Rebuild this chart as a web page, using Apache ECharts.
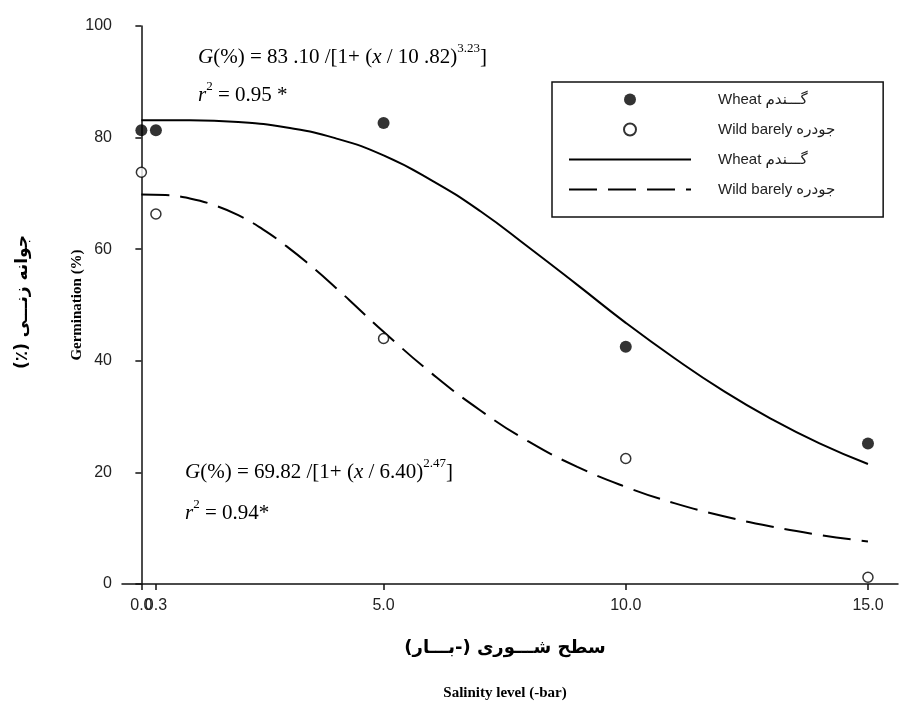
<!DOCTYPE html>
<html>
<head>
<meta charset="utf-8">
<script src="https://cdn.jsdelivr.net/npm/echarts@6/dist/echarts.min.js"></script>
<style>html,body{margin:0;padding:0;background:#fff}#c{width:904px;height:719px}</style>
</head>
<body>
<div id="c"></div>
<script>
// ---- data ----
const obsX = [0, 0.3, 5, 10, 15];
const wheatObs = [81.3, 81.3, 82.6, 42.5, 25.2];
const barleyObs = [73.8, 66.3, 44.0, 22.5, 1.2];

const wheatCurveX = [0, 1, 2, 3, 4, 5, 6, 7, 8, 9, 10, 11, 12, 13, 14, 15];
const wheatCurveY = [83.1, 83.1, 82.8, 81.8, 79.9, 76.8, 72.3, 66.8, 60.3, 53.6, 46.8, 40.5, 34.7, 29.6, 25.2, 21.5];

const barleyCurveX = [0, 0.5, 1, 1.5, 2, 2.5, 3, 3.5, 4, 4.5, 5, 6, 7, 8, 9, 10, 11, 12, 13, 14, 15];
const barleyCurveY = [69.8, 69.7, 69.1, 67.9, 66.1, 63.6, 60.5, 57.0, 53.2, 49.2, 45.2, 37.7, 31.1, 25.5, 21.0, 17.4, 14.5, 12.2, 10.3, 8.8, 7.6];

const xTicksMain = [0.3, 5, 10, 15];
const xTicksZero = [0];

const nameWheatPts = 'Wheat گـــندم';
const nameBarleyPts = 'Wild barely جودره';
const nameWheatLine = 'Wheat گـــندم\u200B';
const nameBarleyLine = 'Wild barely جودره\u200B';

const zip = (xs, ys) => xs.map((x, i) => [x, ys[i]]);

const chart = echarts.init(document.getElementById('c'), null, {renderer: 'canvas'});
const serif = 'Liberation Serif, Times New Roman, serif';
const sans = 'Liberation Sans, Arial, DejaVu Sans, sans-serif';

function xAxisDef(ticks, showLine) {
  return {
    type: 'value', min: -0.4, max: 15.62, position: 'bottom',
    axisLine: {show: showLine, onZero: false, lineStyle: {color: '#111', width: 1.5}},
    axisTick: {show: true, inside: false, length: 6, customValues: ticks, lineStyle: {color: '#111', width: 1.5}},
    axisLabel: {customValues: ticks, hideOverlap: false, color: '#222', fontFamily: sans, fontSize: 16, margin: 14,
      formatter: v => Number(v).toFixed(1)},
    splitLine: {show: false}
  };
}

const rich = {
  i: {fontFamily: serif, fontStyle: 'italic', fontSize: 21, fill: '#000', verticalAlign: 'bottom', lineHeight: 26},
  n: {fontFamily: serif, fontSize: 21, fill: '#000', verticalAlign: 'bottom', lineHeight: 26},
  s: {fontFamily: serif, fontSize: 13, fill: '#000', verticalAlign: 'top', lineHeight: 26}
};

chart.setOption({
  backgroundColor: '#fff',
  animation: false,
  grid: {left: 122, top: 26, right: 6, bottom: 135, containLabel: false},
  xAxis: [xAxisDef(xTicksMain, true), xAxisDef(xTicksZero, false)],
  yAxis: {
    type: 'value', min: 0, max: 100, interval: 20,
    axisLine: {show: true, lineStyle: {color: '#111', width: 1.5}},
    axisTick: {show: true, inside: false, length: 6, lineStyle: {color: '#111', width: 1.5}},
    axisLabel: {color: '#222', fontFamily: sans, fontSize: 16, margin: 10},
    splitLine: {show: false}
  },
  legend: {
    orient: 'vertical', left: 552, top: 82,
    itemWidth: 122, itemHeight: 12, itemGap: 15,
    padding: [10, 48, 20, 16],
    borderColor: '#111', borderWidth: 1.5, borderRadius: 0,
    textStyle: {fontFamily: sans, fontSize: 15, color: '#222', padding: [0, 0, 0, 22]},
    data: [
      {name: nameWheatPts, icon: 'circle'},
      {name: nameBarleyPts, icon: 'circle'},
      {name: nameWheatLine, itemStyle: {color: 'rgba(0,0,0,0)', borderColor: 'rgba(0,0,0,0)', borderWidth: 0}},
      {name: nameBarleyLine, itemStyle: {color: 'rgba(0,0,0,0)', borderColor: 'rgba(0,0,0,0)', borderWidth: 0}}
    ],
    formatter: n => n.replace('\u200B', '')
  },
  series: [
    {
      name: nameWheatLine, type: 'line', data: zip(wheatCurveX, wheatCurveY), smooth: true,
      showSymbol: false, symbol: 'none', lineStyle: {color: '#000', width: 2}, itemStyle: {color: '#000'}, z: 2
    },
    {
      name: nameBarleyLine, type: 'line', data: zip(barleyCurveX, barleyCurveY), smooth: true,
      showSymbol: false, symbol: 'none', lineStyle: {color: '#000', width: 2, type: [28, 11]}, itemStyle: {color: '#000'}, z: 2
    },
    {
      name: nameWheatPts, type: 'scatter', data: zip(obsX, wheatObs), symbol: 'circle', symbolSize: 12,
      itemStyle: {color: '#000', borderColor: '#000', borderWidth: 0}, z: 4
    },
    {
      name: nameBarleyPts, type: 'scatter', data: zip(obsX, barleyObs), symbol: 'circle', symbolSize: 10,
      itemStyle: {color: '#fff', borderColor: '#000', borderWidth: 1.5}, z: 4
    }
  ],
  graphic: [
    {type: 'text', left: 198, top: 42, style: {
      text: '{i|G}{n|(%) = 83 .10 /[1+ (}{i|x}{n| / 10 .82)}{s|3.23}{n|]}', rich}},
    {type: 'text', left: 198, top: 80, style: {
      text: '{i|r}{s|2}{n| = 0.95 *}', rich}},
    {type: 'text', left: 185, top: 457, style: {
      text: '{i|G}{n|(%) = 69.82 /[1+ (}{i|x}{n| / 6.40)}{s|2.47}{n|]}', rich}},
    {type: 'text', left: 185, top: 498, style: {
      text: '{i|r}{s|2}{n| = 0.94*}', rich}},
    {type: 'text', x: 77, y: 305, rotation: Math.PI / 2, style: {
      text: 'Germination (%)', fontFamily: serif, fontWeight: 'bold', fontSize: 15, fill: '#000', align: 'center', verticalAlign: 'middle'}},
    {type: 'text', x: 23, y: 302, rotation: Math.PI / 2, style: {
      text: '(٪) جوانه زنـــی', fontFamily: 'DejaVu Sans, sans-serif', fontWeight: 'bold', fontSize: 17, fill: '#000', align: 'center', verticalAlign: 'middle'}},
    {type: 'text', x: 505, y: 648, style: {
      text: 'سطح شـــوری (-بـــار)', fontFamily: 'DejaVu Sans, sans-serif', fontWeight: 'bold', fontSize: 18, fill: '#000', align: 'center', verticalAlign: 'middle'}},
    {type: 'text', x: 505, y: 693, style: {
      text: 'Salinity level (-bar)', fontFamily: serif, fontWeight: 'bold', fontSize: 15, fill: '#000', align: 'center', verticalAlign: 'middle'}}
  ]
});
</script>
</body>
</html>
